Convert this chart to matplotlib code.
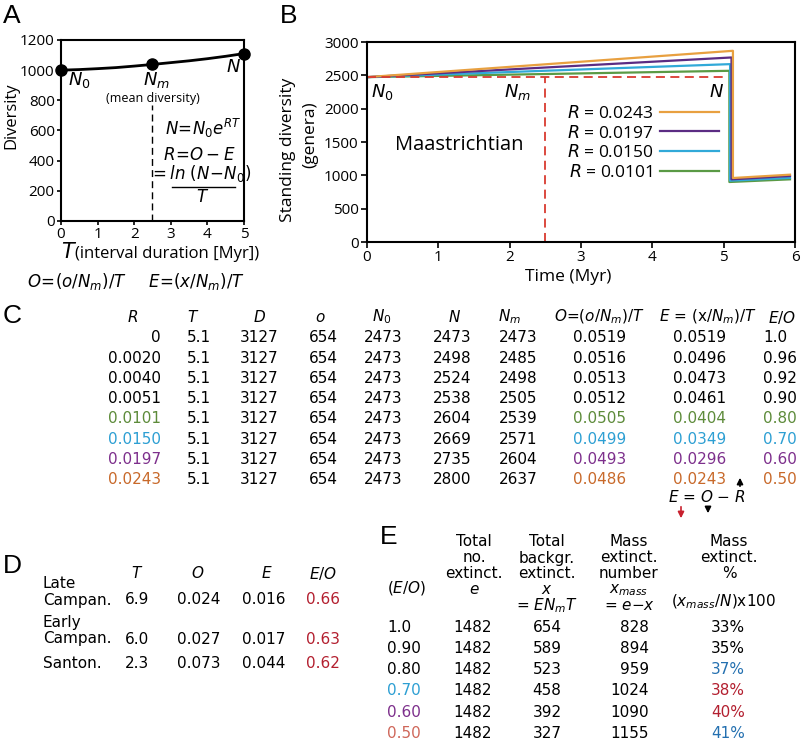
import numpy as np
import matplotlib.pyplot as plt

plt.rcParams['font.family'] = ['Open Sans', 'DejaVu Sans']
plt.rcParams['mathtext.fontset'] = 'custom'
plt.rcParams['mathtext.rm'] = 'DejaVu Sans'
plt.rcParams['mathtext.it'] = 'DejaVu Sans:italic'

# Dados - painel A (curva de diversidade)
t_a = [0, 0.5, 1, 1.5, 2, 2.5, 3, 3.5, 4, 4.5, 5]
div_a = [1000, 1004, 1010, 1017, 1027, 1038, 1050, 1062, 1076, 1092, 1110]
pontos_t = [0, 2.5, 5]
pontos_div = [1000, 1038, 1110]

# Dados - painel B (diversidade em pe)
r_labels = ['0.0243', '0.0197', '0.0150', '0.0101']
b_tempo = [[0, 5.13, 5.13, 5.93], [0, 5.11, 5.11, 5.93], [0, 5.09, 5.09, 5.93], [0, 5.08, 5.08, 5.93]]
b_div = [[2473, 2868, 960, 1010], [2473, 2768, 940, 990], [2473, 2668, 920, 962], [2473, 2568, 900, 940]]
n0_b = 2473
tm_b = 2.5
tfim_b = 5.05

# Dados - painel C
c_R = ['0', '0.0020', '0.0040', '0.0051', '0.0101', '0.0150', '0.0197', '0.0243']
c_T = ['5.1'] * 8
c_D = ['3127'] * 8
c_o = ['654'] * 8
c_N0 = ['2473'] * 8
c_N = ['2473', '2498', '2524', '2538', '2604', '2669', '2735', '2800']
c_Nm = ['2473', '2485', '2498', '2505', '2539', '2571', '2604', '2637']
c_O = ['0.0519', '0.0516', '0.0513', '0.0512', '0.0505', '0.0499', '0.0493', '0.0486']
c_E = ['0.0519', '0.0496', '0.0473', '0.0461', '0.0404', '0.0349', '0.0296', '0.0243']
c_EO = ['1.0', '0.96', '0.92', '0.90', '0.80', '0.70', '0.60', '0.50']

# Dados - painel D
d_int = [['Late', 'Campan.'], ['Early', 'Campan.'], ['Santon.']]
d_T = ['6.9', '6.0', '2.3']
d_O = ['0.024', '0.027', '0.073']
d_E = ['0.016', '0.017', '0.044']
d_EO = ['0.66', '0.63', '0.62']

# Dados - painel E
e_EO = ['1.0', '0.90', '0.80', '0.70', '0.60', '0.50']
e_tot = ['1482'] * 6
e_x = ['654', '589', '523', '458', '392', '327']
e_xmass = ['828', '894', '959', '1024', '1090', '1155']
e_pct = ['33%', '35%', '37%', '38%', '40%', '41%']

# Cores
verde = '#5d8b3a'
azul = '#2d9fd3'
roxo = '#7d2f8c'
laranja = '#c8692a'
vermelho = '#b31f2f'
azul_esc = '#2470b0'
salmao = '#cf675a'
linhas_b = ['#e8a040', '#5b2c83', '#31a9d8', '#5a9a45']

fig = plt.figure(figsize=(8.02, 7.40), dpi=100)

## Painel A
axa = fig.add_axes([61 / 802, 1 - 221 / 740, 183 / 802, 181 / 740])
axa.plot(t_a, div_a, color='black', lw=2)
axa.plot(pontos_t, pontos_div, 'o', color='black', ms=8, clip_on=False, zorder=5)
axa.plot([2.5, 2.5], [0, 770], '--', color='black', lw=1, dashes=(5, 3))
axa.set_xlim(0, 5)
axa.set_ylim(0, 1200)
axa.set_xticks(range(6))
axa.set_yticks(range(0, 1201, 200))
axa.tick_params(labelsize=11, direction='out', length=3, width=1.2, pad=1.5)
for s in axa.spines.values():
    s.set_linewidth(1.5)
axa.text(0.2, 935, '$N_0$', fontsize=13, ha='left', va='center')
axa.text(2.6, 935, '$N_m$', fontsize=13, ha='center', va='center')
axa.text(2.52, 815, '(mean diversity)', fontsize=9, ha='center', va='center')
axa.text(4.7, 1020, '$N$', fontsize=13, ha='center', va='center')

## Painel B
axb = fig.add_axes([367 / 802, 1 - 242 / 740, 428 / 802, 200 / 740])
for i in range(3, -1, -1):
    axb.plot(b_tempo[i], b_div[i], color=linhas_b[i], lw=1.6, label='$R$ = ' + r_labels[i])
axb.plot([0, tfim_b], [n0_b, n0_b], '--', color='#d93a2f', lw=1.3, dashes=(5, 3))
axb.plot([tm_b, tm_b], [0, n0_b], '--', color='#d93a2f', lw=1.3, dashes=(5, 3))
axb.set_xlim(0, 6)
axb.set_ylim(0, 3000)
axb.set_xticks(range(7))
axb.set_yticks(range(0, 3001, 500))
axb.tick_params(labelsize=11, direction='out', length=4, width=1.2, pad=2)
for s in axb.spines.values():
    s.set_linewidth(1.5)
hd, lb = axb.get_legend_handles_labels()
axb.legend(hd[::-1], lb[::-1], loc='upper left', bbox_to_anchor=(0.45, 0.72), frameon=False,
           markerfirst=False, fontsize=12.5, handlelength=3.4, labelspacing=0.15,
           borderaxespad=0, handletextpad=0.4)
axb.text(0.05, 2250, '$N_0$', fontsize=13, ha='left', va='center')
axb.text(2.3, 2250, '$N_m$', fontsize=13, ha='right', va='center')
axb.text(4.9, 2250, '$N$', fontsize=13, ha='center', va='center')
axb.text(1.3, 1450, 'Maastrichtian', fontsize=14.5, ha='center', va='center')

## Camada de texto (coordenadas em pixels)
ov = fig.add_axes([0, 0, 1, 1])
ov.set_xlim(0, 802)
ov.set_ylim(740, 0)
ov.axis('off')

# rotulos dos paineis
for letra, x, y in [('A', 3, 16), ('B', 280, 16), ('C', 3, 316), ('D', 3, 566), ('E', 380, 537)]:
    ov.text(x, y, letra, fontsize=19, ha='left', va='center', family='Liberation Sans')

# eixos A
ov.text(11, 116, 'Diversity', fontsize=12, rotation=90, ha='center', va='center')
ov.text(61, 253, '$T$', fontsize=15, ha='left', va='center')
ov.text(75, 254, '(interval duration [Myr])', fontsize=12, ha='left', va='center')
ov.text(27, 282, r'$O\!=\!(o/N_m)/T$', fontsize=12, ha='left', va='center')
ov.text(148, 282, r'$E\!=\!(x/N_m)/T$', fontsize=12, ha='left', va='center')
ov.text(203, 128, r'$N\!=\!N_0e^{RT}$', fontsize=12, ha='center', va='center')
ov.text(199, 155, r'$R\!=\!O-E$', fontsize=12, ha='center', va='center')
ov.text(200, 173, r'$=ln\ (N\!-\!N_0)$', fontsize=12, ha='center', va='center')
ov.plot([172, 235], [187, 187], color='black', lw=1)
ov.text(203, 198, '$T$', fontsize=12, ha='center', va='center')

# eixos B
ov.text(288, 150, 'Standing diversity', fontsize=12.5, rotation=90, ha='center', va='center')
ov.text(310, 135, '(genera)', fontsize=12.5, rotation=90, ha='center', va='center')
ov.text(568, 277, 'Time (Myr)', fontsize=12.5, ha='center', va='center')

## Painel C - tabela
fs = 11
tab = dict(fontsize=fs, family='DejaVu Sans', va='center')
cores_c = ['black'] * 4 + [verde, azul, roxo, laranja]
y_cab = 317
y0 = 338
dy = 20.2
cab_c = [('$R$', 133), ('$T$', 193), ('$D$', 260), ('$o$', 320), ('$N_0$', 382), ('$N$', 455),
         ('$N_m$', 510), (r'$O$=($o$/$N_m$)/$T$', 599), (r'$E$ = (x/$N_m$)/$T$', 708), ('$E$/$O$', 782)]
for txt, x in cab_c:
    ov.text(x, y_cab, txt, ha='center', **tab)
for i in range(8):
    y = y0 + i * dy
    ov.text(161, y, c_R[i], ha='right', color=cores_c[i], **tab)
    ov.text(199, y, c_T[i], ha='center', **tab)
    ov.text(259, y, c_D[i], ha='center', **tab)
    ov.text(323, y, c_o[i], ha='center', **tab)
    ov.text(383, y, c_N0[i], ha='center', **tab)
    ov.text(452, y, c_N[i], ha='center', **tab)
    ov.text(518, y, c_Nm[i], ha='center', **tab)
    ov.text(600, y, c_O[i], ha='center', color=cores_c[i], **tab)
    ov.text(700, y, c_E[i], ha='center', color=cores_c[i], **tab)
    ov.text(763, y, c_EO[i], ha='left', color=cores_c[i], **tab)

# E = O - R com setas
ov.text(707, 497, r'$E$ = $O$ $-$ $R$', ha='center', **tab)
ov.annotate('', xy=(740, 475), xytext=(740, 489),
            arrowprops=dict(arrowstyle='-|>', color='black', lw=1.2, mutation_scale=9))
ov.annotate('', xy=(708, 516), xytext=(708, 504),
            arrowprops=dict(arrowstyle='-|>', color='black', lw=1.2, mutation_scale=9))
ov.annotate('', xy=(681, 521), xytext=(681, 504),
            arrowprops=dict(arrowstyle='-|>', color='#c8202e', lw=1.2, mutation_scale=9))

## Painel D - tabela
for txt, x in [('$T$', 137), ('$O$', 198), ('$E$', 267), ('$E$/$O$', 323)]:
    ov.text(x, 573, txt, ha='center', **tab)
d_y = [600, 639, 663]
for i in range(3):
    y = d_y[i]
    linhas = d_int[i]
    for k, l in enumerate(linhas):
        ov.text(43, y - (len(linhas) - 1 - k) * 16, l, ha='left', **tab)
    ov.text(137, y, d_T[i], ha='center', **tab)
    ov.text(199, y, d_O[i], ha='center', **tab)
    ov.text(264, y, d_E[i], ha='center', **tab)
    ov.text(323, y, d_EO[i], ha='center', color=vermelho, **tab)

## Painel E - tabela
cab_e = [(474, ['Total', 'no.', 'extinct.', '$e$']),
         (547, ['Total', 'backgr.', 'extinct.', '$x$', r'= $EN_mT$']),
         (629, ['Mass', 'extinct.', 'number', '$x_{mass}$', r'= $e$$-$$x$']),
         (729, ['Mass', 'extinct.', '%'])]
for x, linhas in cab_e:
    for k, l in enumerate(linhas):
        ov.text(x, 542 + k * 16, l, ha='center', **tab)
ov.text(387, 588, '($E$/$O$)', ha='left', **tab)
ov.text(724, 602, r'($x_{mass}$/$N$)x100', ha='center', **tab)
cores_e0 = ['black'] * 3 + [azul, roxo, salmao]
cores_e4 = ['black', 'black', azul_esc, vermelho, vermelho, azul_esc]
for i in range(6):
    y = 627 + i * 21.3
    ov.text(387, y, e_EO[i], ha='left', color=cores_e0[i], **tab)
    ov.text(473, y, e_tot[i], ha='center', **tab)
    ov.text(547, y, e_x[i], ha='center', **tab)
    ov.text(649, y, e_xmass[i], ha='right', **tab)
    ov.text(728, y, e_pct[i], ha='center', color=cores_e4[i], **tab)

plt.savefig('out.png', dpi=100)
